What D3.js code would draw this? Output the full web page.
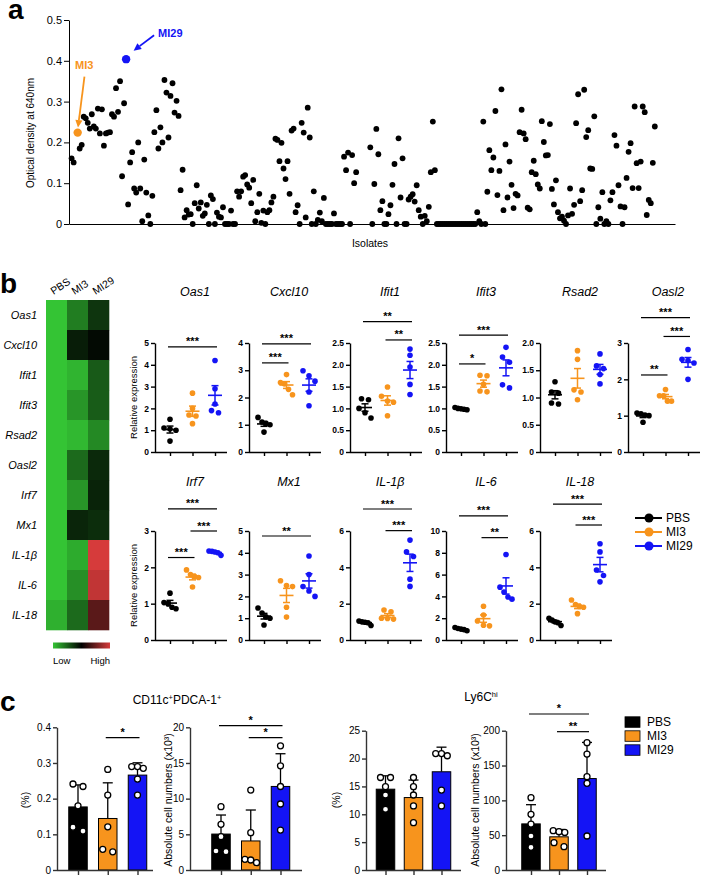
<!DOCTYPE html>
<html>
<head>
<meta charset="utf-8">
<script src="https://cdn.jsdelivr.net/npm/d3@7/dist/d3.min.js"></script>
<style>
html,body{margin:0;padding:0;background:#fff;}
svg{display:block;}
</style>
</head>
<body>
<svg id="fig" width="708" height="875"></svg>
<script>
// ================= DATA =================
// ---- Panel a: optical density of isolates (index = isolate number, null = no isolate drawn)
const odValues = [
  0.161, 0.151, null, 0.224, 0.185, 0.194, 0.263, 0.259, 0.248, 0.234,
  0.269, 0.239, 0.234, 0.283, 0.222, 0.281, 0.192, 0.222, 0.224, 0.225,
  0.269, 0.263, 0.333, 0.275, 0.350, 0.117, 0.296, 0.404, 0.048, 0.151,
  0.176, 0.087, 0.077, 0.200, 0.087, 0.007, 0.158, 0.077, 0.021, 0,
  0.069, 0.225, 0.279, 0.185, 0.237, 0.200, 0.353, 0.322, 0.212, 0.314,
  0.345, 0.273, 0.302, 0.265, 0.083, 0.133, 0.016, 0.034, 0.023, 0.024,
  0, 0.051, 0.095, 0.038, 0.053, 0.020, 0.026, 0.047, 0, 0.070,
  0.061, 0, 0.028, 0.018, 0.016, 0.041, 0, 0, 0, 0.033,
  0, 0, 0.080, 0.067, 0.080, 0.116, 0.120, 0.097, 0.089, 0.051,
  0.108, 0.007, 0.029, 0.074, 0.003, 0.033, 0, 0.029, 0.034, 0.053,
  0.067, 0.209, 0.206, 0.154, 0.199, 0.136, 0.110, 0.154, 0.074, 0.229,
  0.234, 0.029, 0.046, 0, 0.248, 0.224, 0.016, 0.285, 0.212, 0,
  0.080, 0, 0.010, 0.028, 0.007, 0.064, 0, 0, 0, 0,
  0.026, 0, 0, 0, 0, 0.165, 0.132, 0.175, 0, 0.169,
  0.100, 0.127, null, null, null, null, null, null, 0.188, 0,
  0.098, 0.233, 0.171, 0.034, 0.056, 0, 0, 0.024, 0.046, 0.096,
  0.147, 0, 0.210, 0.065, 0.161, 0, 0, 0.060, 0.067, 0.073,
  0.055, 0.095, 0.034, 0.018, 0, 0.020, 0.007, 0.042, 0.127, 0.251,
  0.132, 0, 0, 0, 0, 0, 0, 0, 0, 0,
  0, 0, 0, 0, 0, 0, 0, 0, 0, 0,
  0, 0.029, 0.007, 0, 0.251, 0, 0.079, 0.181, 0.132, 0.163,
  0.277, 0.071, 0.130, 0.330, 0.034, 0.195, 0.065, 0.153, 0.096, 0.039,
  0.074, 0.070, 0.225, 0.280, 0.222, 0.208, 0.040, 0.036, 0.127, 0.155,
  0.122, 0.097, 0.087, 0.252, 0.201, 0.168, 0.169, 0.245, 0.086, 0.048,
  0.107, 0.029, 0.014, 0.018, 0.008, 0, 0.021, 0.087, 0.025, 0.047,
  0.247, 0.318, 0.056, 0.083, 0.329, 0.213, 0.230, 0.136, 0.135, 0.264,
  0, 0.041, 0.013, 0.078, 0, 0.007, 0, 0.058, 0.078, 0.218,
  0.192, 0.095, 0.043, 0, 0.041, 0.113, 0.177, 0.198, 0.088, 0.288,
  0.149, 0.088, 0.153, 0.288, 0.274, 0.022, 0.059, 0.051, 0.150, 0.239
];
const highlightNames = ["MI3", "MI29"];
const highlightIsolates = [4, 28];
const odTicks = [0, 0.1, 0.2, 0.3, 0.4, 0.5];

// ---- Panel b: heatmap (relative level, -1 = low, +1 = high)
const heatGenes = ["Oas1", "Cxcl10", "Ifit1", "Ifit3", "Rsad2", "Oasl2", "Irf7", "Mx1", "IL-1β", "IL-6", "IL-18"];
const heatGroups = ["PBS", "MI3", "MI29"];
const heatPBS  = [-1, -1, -1, -1, -1, -1, -1, -1, -1, -1, -0.9];
const heatMI3  = [-0.64, -0.15, -0.92, -0.76, -0.94, -0.54, -0.76, -0.19, -0.87, -0.73, -0.54];
const heatMI29 = [-0.27, -0.05, -0.46, -0.47, -0.70, -0.21, -0.18, -0.23, 1.0, 0.9, 0.42];

// ---- Panel b: relative expression, [PBS, MI3, MI29]
const groups = ["PBS", "MI3", "MI29"];
const oas1   = [[1.5, 1.1, 1.05, 1.0, 0.5], [2.7, 2.0, 1.7, 1.65, 1.3], [4.2, 2.9, 2.2, 1.9, 1.8]];
const cxcl10 = [[1.27, 1.1, 1.05, 1.0, 0.73], [2.84, 2.55, 2.5, 2.3, 2.1], [2.98, 2.8, 2.6, 2.2, 1.7]];
const ifit1  = [[1.22, 1.2, 1.0, 0.9, 0.78], [1.49, 1.28, 1.17, 1.14, 0.83], [2.36, 2.22, 1.95, 1.55, 1.32]];
const ifit3  = [[1.02, 1.0, 0.99, 0.98, 0.97], [1.76, 1.75, 1.55, 1.4, 1.38], [2.4, 2.18, 2.06, 1.54, 1.47]];
const rsad2  = [[1.29, 1.1, 1.08, 0.9, 0.88], [1.86, 1.7, 1.14, 1.1, 0.96], [1.8, 1.58, 1.53, 1.42, 1.25]];
const oasl2  = [[1.07, 1.05, 1.02, 1.0, 0.82], [1.72, 1.55, 1.55, 1.4, 1.4], [2.82, 2.55, 2.52, 2.45, 2.0]];
const irf7   = [[1.29, 1.03, 1.0, 0.9, 0.86], [1.93, 1.8, 1.75, 1.72, 1.46], [2.45, 2.44, 2.42, 2.4, 2.33]];
const mx1    = [[1.47, 1.24, 1.06, 1.0, 0.69], [2.72, 2.5, 2.45, 1.5, 1.05], [3.85, 3.0, 2.45, 2.25, 2.0]];
const il1b   = [[1.05, 1.0, 0.98, 0.95, 0.8], [1.65, 1.55, 1.2, 1.18, 1.15], [5.5, 4.85, 4.6, 3.35, 2.95]];
const il6    = [[1.15, 1.05, 1.0, 0.95, 0.85], [3.1, 2.3, 1.75, 1.35, 1.3], [7.85, 4.85, 4.4, 3.95, 3.75]];
const il18   = [[1.2, 1.1, 1.0, 0.95, 0.8], [2.2, 1.95, 1.85, 1.8, 1.45], [5.3, 4.85, 3.85, 3.55, 3.2]];

// y-axis ticks
const oas1Ticks = [0, 1, 2, 3, 4, 5];
const cxcl10Ticks = [0, 1, 2, 3, 4];
const ifit1Ticks = [0, 0.5, 1, 1.5, 2, 2.5];
const ifit3Ticks = [0, 0.5, 1, 1.5, 2, 2.5];
const rsad2Ticks = [0, 0.5, 1, 1.5, 2];
const oasl2Ticks = [0, 1, 2, 3];
const irf7Ticks = [0, 1, 2, 3];
const mx1Ticks = [0, 1, 2, 3, 4, 5];
const il1bTicks = [0, 2, 4, 6];
const il6Ticks = [0, 2, 4, 6, 8, 10];
const il18Ticks = [0, 2, 4, 6];

// significance: [fromGroup, toGroup, label, level (data units)]
const oas1Sig = [[0, 2, "***", 4.82]];
const cxcl10Sig = [[0, 2, "***", 3.97], [0, 1, "***", 3.27]];
const ifit1Sig = [[0, 2, "**", 2.99], [1, 2, "**", 2.57]];
const ifit3Sig = [[0, 2, "***", 2.68], [0, 1, "*", 2.02]];
const rsad2Sig = [];
const oasl2Sig = [[0, 2, "***", 3.7], [1, 2, "***", 3.18], [0, 1, "**", 2.12]];
const irf7Sig = [[0, 2, "***", 3.61], [1, 2, "***", 3.0], [0, 1, "***", 2.27]];
const mx1Sig = [[0, 2, "**", 4.77]];
const il1bSig = [[0, 2, "***", 7.21], [1, 2, "***", 6.02]];
const il6Sig = [[0, 2, "***", 11.38], [1, 2, "**", 9.39]];
const il18Sig = [[0, 2, "***", 7.48], [1, 2, "***", 6.33]];

// ---- Panel c
const pdcPercent = [[0.241, 0.234, 0.18, 0.12, 0.109], [0.282, 0.21, 0.121, 0.058, 0.051], [0.29, 0.29, 0.285, 0.255, 0.21]];
const pdcCounts  = [[8.88, 6.4, 4.67, 2.66, 2.57], [11.2, 5.23, 1.5, 1.4, 1.03], [17.4, 14.6, 11.7, 9.25, 5.6]];
const ly6cPercent = [[16.6, 16.6, 14.95, 13.46, 10.9], [16.6, 14.95, 13.46, 11.5, 8.5], [20.9, 20.9, 20.5, 14.35, 11.5]];
const ly6cCounts  = [[103.8, 79.9, 66, 48.8, 32.5], [56.5, 55, 54, 39.2, 33.5], [182.8, 166.5, 134, 124.4, 48.8]];
const pdcPercentTicks = [0, 0.1, 0.2, 0.3, 0.4];
const pdcCountsTicks = [0, 5, 10, 15, 20];
const ly6cPercentTicks = [0, 5, 10, 15, 20, 25];
const ly6cCountsTicks = [0, 50, 100, 150, 200];
const pdcPercentSig = [[1, 2, "*", 0.371]];
const pdcCountsSig = [[0, 2, "*", 20.23], [1, 2, "*", 18.55]];
const ly6cPercentSig = [];
const ly6cCountsSig = [[0, 2, "*", 224], [1, 2, "**", 198.6]];

// ================= DRAWING =================
const FONT = '"Liberation Sans", Arial, Helvetica, sans-serif';
const groupColors = ["#000000", "#f7941d", "#1414f5"];
const svg = d3.select("#fig").style("font-family", FONT);

function styleAxis(sel, fs, sw, bold, col) {
  col = col || "#000";
  sel.attr("font-family", FONT).attr("font-size", fs);
  sel.selectAll("path.domain").attr("stroke", col).attr("stroke-width", sw);
  sel.selectAll(".tick line").attr("stroke", col).attr("stroke-width", sw);
  sel.selectAll(".tick text").attr("fill", "#000").attr("font-weight", bold ? "bold" : "normal");
}

function panelLetter(t, x, y) {
  svg.append("text").attr("x", x).attr("y", y).attr("font-size", 28).attr("font-weight", "bold").text(t);
}

// ---------- Panel a ----------
(function () {
  const x = d3.scaleLinear().domain([-0.3, 300]).range([69, 675]);
  const y = d3.scaleLinear().domain([0, 0.5]).range([224, 20]);
  const g = svg.append("g");
  const yAx = g.append("g").attr("transform", "translate(69,0)")
    .call(d3.axisLeft(y).tickValues(odTicks).tickSize(5).tickPadding(2).tickSizeOuter(0)
      .tickFormat(d => d === 0 ? "0" : d3.format(".1f")(d)));
  styleAxis(yAx, 11, 1);
  const xAx = g.append("g").attr("transform", "translate(0,224)")
    .call(d3.axisBottom(x).tickValues([]).tickSizeOuter(0));
  styleAxis(xAx, 11, 1);

  const pts = odValues.map((v, k) => ({ iso: k + 1, v }))
    .filter(d => d.v !== null && !highlightIsolates.includes(d.iso));
  g.selectAll("circle.iso").data(pts).join("circle").attr("class", "iso")
    .attr("cx", d => x(d.iso)).attr("cy", d => y(d.v)).attr("r", 2.9).attr("fill", "#000");

  function arrow(x1, y1, x2, y2, col) {
    const ang = Math.atan2(y2 - y1, x2 - x1), L = 7.5, W = 3.6;
    const bx = x2 - L * Math.cos(ang), by = y2 - L * Math.sin(ang);
    g.append("line").attr("x1", x1).attr("y1", y1).attr("x2", bx).attr("y2", by)
      .attr("stroke", col).attr("stroke-width", 1.8);
    const px = -Math.sin(ang) * W, py = Math.cos(ang) * W;
    g.append("polygon").attr("points", `${x2},${y2} ${bx + px},${by + py} ${bx - px},${by - py}`).attr("fill", col);
  }
  highlightIsolates.forEach((iso, k) => {
    const cx = x(iso), cy = y(odValues[iso - 1]), col = groupColors[k + 1];
    g.append("circle").attr("cx", cx).attr("cy", cy).attr("r", 4.2).attr("fill", col);
    if (k === 0) {
      g.append("text").attr("x", cx + 6.5).attr("y", cy - 63.5).attr("text-anchor", "middle")
        .attr("font-size", 11).attr("font-weight", "bold").attr("fill", col).text(highlightNames[k]);
      arrow(cx + 6.8, cy - 56, cx + 0.3, cy - 5, col);
    } else {
      g.append("text").attr("x", cx + 32).attr("y", cy - 22)
        .attr("font-size", 11).attr("font-weight", "bold").attr("fill", col).text(highlightNames[k]);
      arrow(cx + 28, cy - 24, cx + 7.5, cy - 8.5, col);
    }
  });
  g.append("text").attr("transform", "translate(33.5,133) rotate(-90)").attr("text-anchor", "middle")
    .attr("font-size", 10).text("Optical density at 640nm");
  g.append("text").attr("x", 370).attr("y", 247).attr("text-anchor", "middle")
    .attr("font-size", 10.5).text("Isolates");
  panelLetter("a", 8, 19);
})();

// ---------- Panel b heatmap ----------
(function () {
  const g = svg.append("g");
  const hx = d3.scaleBand().domain(heatGroups).range([46, 109]);
  const hy = d3.scaleBand().domain(heatGenes).range([300, 630]);
  const color = d3.scaleLinear().domain([-1, 0, 1]).range(["#34c434", "#000000", "#d63b3b"]);
  const cols = [heatPBS, heatMI3, heatMI29];
  const cells = [];
  heatGenes.forEach((gene, r) => heatGroups.forEach((grp, c) => cells.push({ gene, grp, v: cols[c][r] })));
  g.selectAll("rect.cell").data(cells).join("rect").attr("class", "cell")
    .attr("x", d => hx(d.grp)).attr("y", d => hy(d.gene))
    .attr("width", hx.bandwidth() + 0.3).attr("height", hy.bandwidth() + 0.3)
    .attr("fill", d => color(d.v));
  g.selectAll("text.gene").data(heatGenes).join("text").attr("class", "gene")
    .attr("x", 37).attr("y", d => hy(d) + hy.bandwidth() / 2).attr("dy", "0.35em")
    .attr("text-anchor", "end").attr("font-size", 11).attr("font-style", "italic").text(d => d);
  g.selectAll("text.grp").data(heatGroups).join("text").attr("class", "grp")
    .attr("transform", d => `translate(${hx(d) + hx.bandwidth() / 2 - 3},295) rotate(-33)`)
    .attr("font-size", 10.5).text(d => d);
  const defs = svg.append("defs");
  const lg = defs.append("linearGradient").attr("id", "hm");
  lg.append("stop").attr("offset", "0%").attr("stop-color", color(-1));
  lg.append("stop").attr("offset", "50%").attr("stop-color", color(0));
  lg.append("stop").attr("offset", "100%").attr("stop-color", color(1));
  g.append("rect").attr("x", 53).attr("y", 642.5).attr("width", 57).attr("height", 6).attr("fill", "url(#hm)");
  g.append("text").attr("x", 53).attr("y", 664).attr("font-size", 9.5).text("Low");
  g.append("text").attr("x", 110).attr("y", 664).attr("text-anchor", "end").attr("font-size", 9.5).text("High");
  panelLetter("b", 0, 293);
})();

// ---------- Panel b scatter ----------
function swarm(values, yScale, r, maxW, maxStep) {
  const items = values.map((v, i) => ({ v, py: yScale(v), i })).sort((a, b) => a.py - b.py);
  const clusters = [];
  items.forEach(it => {
    const last = clusters[clusters.length - 1];
    if (last && it.py - last[last.length - 1].py < 2 * r) last.push(it); else clusters.push([it]);
  });
  clusters.forEach(cl => {
    const k = cl.length;
    const step = k === 1 ? 0 : Math.min(maxStep, maxW / (k - 1));
    cl.forEach((it, j) => { it.dx = (j - (k - 1) / 2) * step; });
  });
  return items;
}

function drawSig(g, x, y, sigs, fs) {
  sigs.forEach(([a, b, label, val]) => {
    const yy = y(val);
    const xa = x(groups[a]) - 2, xb = x(groups[b]) + 2;
    g.append("line").attr("x1", xa).attr("x2", xb).attr("y1", yy).attr("y2", yy)
      .attr("stroke", "#000").attr("stroke-width", 1.2);
    g.append("text").attr("x", (xa + xb) / 2).attr("y", yy - 1.5).attr("text-anchor", "middle")
      .attr("font-size", fs).attr("font-weight", "bold").text(label);
  });
}

function scatterPanel(title, data, ticks, sigs, x0, yBase, yTop, titleY) {
  const g = svg.append("g");
  const x = d3.scalePoint().domain(groups).range([x0 + 15, x0 + 60]);
  const y = d3.scaleLinear().domain([0, d3.max(ticks)]).range([yBase, yTop]);
  const hasDec = ticks.some(t => t % 1 !== 0);
  const yAx = g.append("g").attr("transform", `translate(${x0},0)`)
    .call(d3.axisLeft(y).tickValues(ticks).tickSize(4).tickPadding(2).tickSizeOuter(0)
      .tickFormat(d => d === 0 ? "0" : hasDec ? d.toFixed(1) : String(d)));
  styleAxis(yAx, 8.5, 1.4, true);
  const xAx = g.append("g").attr("transform", `translate(0,${yBase})`)
    .call(d3.axisBottom(x).tickSize(4).tickSizeOuter(0).tickFormat(""));
  xAx.select("path.domain").attr("d", `M${x0},0.5H${x0 + 72}`);
  styleAxis(xAx, 8.5, 1.4, true);

  data.forEach((vals, gi) => {
    const col = groupColors[gi];
    const cx = x(groups[gi]);
    const items = swarm(vals, y, 2.8, 12, 7);
    g.selectAll(null).data(items).join("circle")
      .attr("cx", d => cx + d.dx).attr("cy", d => y(d.v)).attr("r", 2.8).attr("fill", col);
    const m = d3.mean(vals), sem = d3.deviation(vals) / Math.sqrt(vals.length);
    g.append("line").attr("x1", cx - 7).attr("x2", cx + 7).attr("y1", y(m)).attr("y2", y(m))
      .attr("stroke", col).attr("stroke-width", 1.6);
    g.append("line").attr("x1", cx).attr("x2", cx).attr("y1", y(m - sem)).attr("y2", y(m + sem))
      .attr("stroke", col).attr("stroke-width", 1.5);
    [m - sem, m + sem].forEach(v => g.append("line").attr("x1", cx - 3.5).attr("x2", cx + 3.5)
      .attr("y1", y(v)).attr("y2", y(v)).attr("stroke", col).attr("stroke-width", 1.5));
  });
  drawSig(g, x, y, sigs, 11);
  g.append("text").attr("x", x0 + 40).attr("y", titleY).attr("text-anchor", "middle")
    .attr("font-size", 12.5).attr("font-style", "italic").text(title);
}

const rowOneNames = ["Oas1", "Cxcl10", "Ifit1", "Ifit3", "Rsad2", "Oasl2"];
const rowOneData = [oas1, cxcl10, ifit1, ifit3, rsad2, oasl2];
const rowOneTicks = [oas1Ticks, cxcl10Ticks, ifit1Ticks, ifit3Ticks, rsad2Ticks, oasl2Ticks];
const rowOneSig = [oas1Sig, cxcl10Sig, ifit1Sig, ifit3Sig, rsad2Sig, oasl2Sig];
const rowTwoNames = ["Irf7", "Mx1", "IL-1β", "IL-6", "IL-18"];
const rowTwoData = [irf7, mx1, il1b, il6, il18];
const rowTwoTicks = [irf7Ticks, mx1Ticks, il1bTicks, il6Ticks, il18Ticks];
const rowTwoSig = [irf7Sig, mx1Sig, il1bSig, il6Sig, il18Sig];
const panelX = [155, 249, 350, 446, 540, 628];

rowOneNames.forEach((n, i) => scatterPanel(n, rowOneData[i], rowOneTicks[i], rowOneSig[i], panelX[i], 452, 343, 296));
rowTwoNames.forEach((n, i) => scatterPanel(n, rowTwoData[i], rowTwoTicks[i], rowTwoSig[i], panelX[i], 640, 531, 486));

svg.append("text").attr("transform", "translate(136.5,397.5) rotate(-90)").attr("text-anchor", "middle")
  .attr("font-size", 9.5).text("Relative expression");
svg.append("text").attr("transform", "translate(136.5,585.5) rotate(-90)").attr("text-anchor", "middle")
  .attr("font-size", 9.5).text("Relative expression");

// legend b
groups.forEach((gname, i) => {
  const yy = 518 + i * 14;
  svg.append("line").attr("x1", 635).attr("x2", 662).attr("y1", yy).attr("y2", yy)
    .attr("stroke", groupColors[i]).attr("stroke-width", 2);
  svg.append("circle").attr("cx", 649).attr("cy", yy).attr("r", 4.5).attr("fill", groupColors[i]);
  svg.append("text").attr("x", 666).attr("y", yy).attr("dy", "0.35em").attr("font-size", 12).text(gname);
});

// ---------- Panel c ----------
function barPanel(data, ticks, sigs, x0, x1, c0, c2, yTop, ylabel, ylx) {
  const g = svg.append("g");
  const x = d3.scalePoint().domain(groups).range([c0, c2]);
  const y = d3.scaleLinear().domain([0, d3.max(ticks)]).range([870, yTop]);
  const hasDec = ticks.some(t => t % 1 !== 0);
  const bw = 18.5;
  data.forEach((vals, gi) => {
    const cx = x(groups[gi]);
    const m = d3.mean(vals), sd = d3.deviation(vals);
    g.append("line").attr("x1", cx).attr("x2", cx).attr("y1", y(m)).attr("y2", y(m + sd))
      .attr("stroke", "#000").attr("stroke-width", 1.3);
    g.append("line").attr("x1", cx - 5).attr("x2", cx + 5).attr("y1", y(m + sd)).attr("y2", y(m + sd))
      .attr("stroke", "#000").attr("stroke-width", 1.3);
    g.append("rect").attr("x", cx - bw / 2).attr("y", y(m)).attr("width", bw).attr("height", y(0) - y(m))
      .attr("fill", groupColors[gi]).attr("stroke", "#000").attr("stroke-width", 1);
    const items = swarm(vals, y, 3.3, 11.6, 10);
    g.selectAll(null).data(items).join("circle")
      .attr("cx", d => cx + d.dx).attr("cy", d => y(d.v)).attr("r", 3)
      .attr("fill", "#fff").attr("stroke", "#000").attr("stroke-width", 1.3);
  });
  const yAx = g.append("g").attr("transform", `translate(${x0},0)`)
    .call(d3.axisLeft(y).tickValues(ticks).tickSize(4).tickPadding(2).tickSizeOuter(0)
      .tickFormat(d => d === 0 ? "0" : hasDec ? d.toFixed(1) : String(d)));
  styleAxis(yAx, 10, 1.4, false, "#333");
  const xAx = g.append("g").attr("transform", "translate(0,870)")
    .call(d3.axisBottom(x).tickSize(5).tickSizeOuter(0).tickFormat(""));
  xAx.select("path.domain").attr("d", `M${x0},0.5H${x1}`);
  styleAxis(xAx, 10, 1.4, false, "#333");
  drawSig(g, x, y, sigs, 11);
  g.append("text").attr("transform", `translate(${ylx},800) rotate(-90)`).attr("text-anchor", "middle")
    .attr("font-size", 10.5).text(ylabel);
}

barPanel(pdcPercent, pdcPercentTicks, pdcPercentSig, 57, 153, 78, 137.5, 727.3, "(%)", 29);
barPanel(pdcCounts, pdcCountsTicks, pdcCountsSig, 190, 302, 221, 280.5, 727.3, "Absolute cell numbers (x10³)", 171.5);
barPanel(ly6cPercent, ly6cPercentTicks, ly6cPercentSig, 366, 461, 385.5, 441.5, 730.7, "(%)", 340);
barPanel(ly6cCounts, ly6cCountsTicks, ly6cCountsSig, 506, 606, 531, 587, 730.7, "Absolute cell numbers (x10³)", 479);

// titles c
(function () {
  const t1 = svg.append("text").attr("x", 177).attr("y", 704).attr("text-anchor", "middle").attr("font-size", 12);
  t1.append("tspan").text("CD11c");
  t1.append("tspan").attr("font-size", 7.5).attr("dy", -4).text("+");
  t1.append("tspan").attr("dy", 4).text("PDCA-1");
  t1.append("tspan").attr("font-size", 7.5).attr("dy", -4).text("+");
  const t2 = svg.append("text").attr("x", 481).attr("y", 701).attr("text-anchor", "middle").attr("font-size", 12);
  t2.append("tspan").text("Ly6C");
  t2.append("tspan").attr("font-size", 7.5).attr("dy", -4).text("hi");
})();

// legend c
groups.forEach((gname, i) => {
  const yy = 722 + i * 14;
  svg.append("rect").attr("x", 625).attr("y", yy - 5.2).attr("width", 15).attr("height", 10.5)
    .attr("fill", groupColors[i]).attr("stroke", "#000").attr("stroke-width", 0.8);
  svg.append("text").attr("x", 647).attr("y", yy).attr("dy", "0.35em").attr("font-size", 12).text(gname);
});
panelLetter("c", 0, 711);
</script>
</body>
</html>
